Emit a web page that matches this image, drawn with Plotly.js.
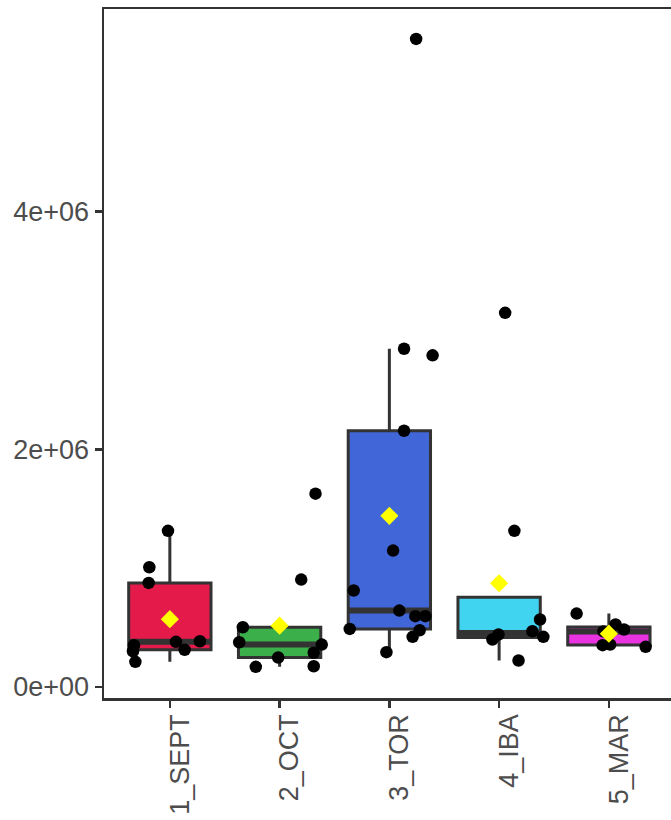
<!DOCTYPE html>
<html><head><meta charset="utf-8">
<script src="https://cdn.plot.ly/plotly-3.0.1.min.js"></script>
<style>html,body{margin:0;padding:0;background:#fff;overflow:hidden}#chart{width:671px;height:820px}</style>
</head><body><div id="chart"></div>
<script>
// ---- data ----
const categories = ["1_SEPT", "2_OCT", "3_TOR", "4_IBA", "5_MAR"];
const fillColors = ["#E41A4B", "#3BB04A", "#4166D8", "#40D4F1", "#E933E0"];

const sept_values = [1314000, 1008000, 876000, 352000, 301000, 212000, 380000, 313000, 385000];
const sept_jitter = [-0.017, -0.187, -0.193, -0.327, -0.336, -0.314, 0.056, 0.135, 0.274];

const oct_values = [503000, 377000, 248000, 170000, 904000, 357000, 288000, 175000, 1627000];
const oct_jitter = [-0.335, -0.368, -0.013, -0.217, 0.197, 0.384, 0.311, 0.311, 0.327];

const tor_values = [2847000, 2791000, 2157000, 1148000, 812000, 643000, 596000, 596000, 478000, 422000, 489000, 293000, 5454000];
const tor_jitter = [0.134, 0.394, 0.134, 0.034, -0.325, 0.091, 0.237, 0.328, 0.276, 0.212, -0.361, -0.027, 0.244];

const iba_values = [568000, 469000, 422000, 442000, 400000, 223000, 1314000, 3149000];
const iba_jitter = [0.373, 0.303, 0.403, -0.006, -0.061, 0.177, 0.139, 0.055];

const mar_values = [618000, 526000, 484000, 468000, 352000, 357000, 338000];
const mar_jitter = [-0.294, 0.061, 0.138, -0.05, -0.057, 0.012, 0.335];

const yTickVals = [0, 2000000, 4000000];
const yTickText = ["0e+00", "2e+06", "4e+06"];

const groupValues = [sept_values, oct_values, tor_values, iba_values, mar_values];
const groupJitter = [sept_jitter, oct_jitter, tor_jitter, iba_jitter, mar_jitter];

// ---- helpers ----
function quantile7(sorted, p) {
  const h = (sorted.length - 1) * p;
  const lo = Math.floor(h), hi = Math.ceil(h);
  return sorted[lo] + (h - lo) * (sorted[hi] - sorted[lo]);
}
function boxStats(vals) {
  const s = vals.slice().sort((a, b) => a - b);
  const q1 = quantile7(s, 0.25), med = quantile7(s, 0.5), q3 = quantile7(s, 0.75);
  const iqr = q3 - q1;
  const inside = s.filter(v => v >= q1 - 1.5 * iqr && v <= q3 + 1.5 * iqr);
  const lo = Math.min(...inside), hi = Math.max(...inside);
  const mean = vals.reduce((a, b) => a + b, 0) / vals.length;
  return {q1, med, q3, lf: Math.min(q1, lo), uf: Math.max(q3, hi), mean};
}

const BOX_W = 0.75;
const traces = [];
const medX = [], medY = [], meanX = [], meanY = [], ptX = [], ptY = [];

groupValues.forEach((vals, i) => {
  const pos = i + 1;
  const st = boxStats(vals);
  traces.push({
    type: 'box', x: [pos], q1: [st.q1], median: [st.med], q3: [st.q3],
    lowerfence: [st.lf], upperfence: [st.uf], width: BOX_W,
    fillcolor: fillColors[i], line: {color: '#333333', width: 3},
    whiskerwidth: 0, boxpoints: false, hoverinfo: 'skip', showlegend: false
  });
  medX.push(pos - BOX_W / 2, pos + BOX_W / 2, null);
  medY.push(st.med, st.med, null);
  meanX.push(pos); meanY.push(st.mean);
  vals.forEach((v, k) => { ptX.push(pos + groupJitter[i][k]); ptY.push(v); });
});

traces.push({type: 'scatter', mode: 'lines', x: medX, y: medY,
  line: {color: '#333333', width: 6}, hoverinfo: 'skip', showlegend: false});
traces.push({type: 'scatter', mode: 'markers', x: ptX, y: ptY,
  marker: {color: '#000000', size: 12.5, line: {width: 0}}, hoverinfo: 'skip', showlegend: false});
traces.push({type: 'scatter', mode: 'markers', x: meanX, y: meanY,
  marker: {color: '#FFFF00', symbol: 'diamond', size: 14, line: {width: 0}}, hoverinfo: 'skip', showlegend: false});

const layout = {
  width: 671, height: 820,
  margin: {l: 103.5, r: 0, t: 9, b: 121.5, pad: 0},
  paper_bgcolor: '#ffffff', plot_bgcolor: '#ffffff',
  font: {family: 'Liberation Sans, Arial, sans-serif', size: 27, color: '#4D4D4D'},
  showlegend: false,
  xaxis: {
    range: [0.4, 5.566], tickvals: [1, 2, 3, 4, 5], ticktext: categories,
    tickangle: -90, ticks: 'outside', ticklen: 7, tickwidth: 2.5, tickcolor: '#333333',
    ticklabelshift: 10, ticklabelstandoff: -4,
    showline: true, linecolor: '#333333', linewidth: 2.5, mirror: true,
    showgrid: false, zeroline: false,
    tickfont: {size: 27, color: '#4D4D4D'}
  },
  yaxis: {
    range: [-92500, 5706000], tickvals: yTickVals, ticktext: yTickText,
    ticks: 'outside', ticklen: 7, tickwidth: 2.5, tickcolor: '#333333',
    showline: true, linecolor: '#333333', linewidth: 2.5, mirror: false,
    showgrid: false, zeroline: false,
    tickfont: {size: 27, color: '#4D4D4D'}
  }
};

Plotly.newPlot('chart', traces, layout, {staticPlot: true, displayModeBar: false});
</script>
</body></html>
